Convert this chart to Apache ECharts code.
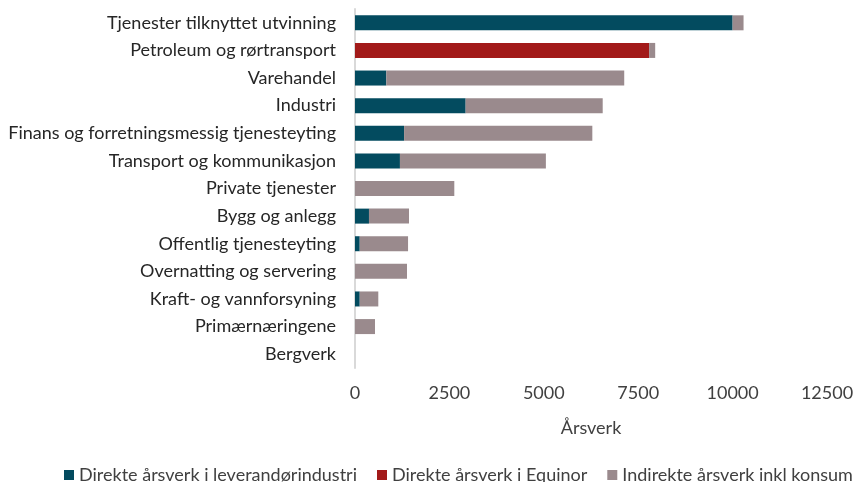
<!DOCTYPE html>
<html>
<head>
<meta charset="utf-8">
<script src="https://cdn.jsdelivr.net/npm/echarts@6/dist/echarts.min.js"></script>
<style>
html,body{margin:0;padding:0;background:#fff;}
#chart{width:859px;height:482px;}
</style>
</head>
<body>
<div id="chart"></div>
<script>
const categories = [
  "Tjenester tilknyttet utvinning",
  "Petroleum og rørtransport",
  "Varehandel",
  "Industri",
  "Finans og forretningsmessig tjenesteyting",
  "Transport og kommunikasjon",
  "Private tjenester",
  "Bygg og anlegg",
  "Offentlig tjenesteyting",
  "Overnatting og servering",
  "Kraft- og vannforsyning",
  "Primærnæringene",
  "Bergverk"
];
const seriesNames = [
  "Direkte årsverk i leverandørindustri",
  "Direkte årsverk i Equinor",
  "Indirekte årsverk inkl konsum"
];
const directSupplier = [10000, 0, 830, 2930, 1300, 1190, 0, 370, 125, 0, 125, 0, 0];
const directEquinor  = [0, 7790, 0, 0, 0, 0, 0, 0, 0, 0, 0, 0, 0];
const indirect       = [290, 160, 6300, 3630, 4985, 3865, 2630, 1060, 1280, 1377, 492, 530, 0];
const xTicks = { min: 0, max: 12500, interval: 2500 };
const xAxisName = "Årsverk";

const FONT = "Lato";
const chart = echarts.init(document.getElementById('chart'), null, {renderer: 'canvas'});
const colors = ['#034B5F', '#A21A19', '#9A8A8D'];
const values = [directSupplier, directEquinor, indirect];

chart.setOption({
  animation: false,
  color: colors,
  grid: { left: 355, right: 32, top: 9, bottom: 114, containLabel: false },
  xAxis: {
    type: 'value',
    min: xTicks.min, max: xTicks.max, interval: xTicks.interval,
    name: xAxisName, nameLocation: 'middle', nameGap: 51,
    nameTextStyle: { fontFamily: FONT, fontSize: 18, color: '#404040' },
    axisLine: { show: false },
    axisTick: { show: false },
    splitLine: { show: false },
    axisLabel: { fontFamily: FONT, fontSize: 18, color: '#404040', margin: 16,
      formatter: v => String(v) }
  },
  yAxis: {
    type: 'category',
    data: categories,
    inverse: true,
    axisLine: { show: true, lineStyle: { color: '#D9D9D9', width: 2 } },
    axisTick: { show: false },
    axisLabel: { fontFamily: FONT, fontSize: 18, color: '#262626', margin: 19 }
  },
  legend: {
    top: 466, left: 64, width: 795, padding: 0,
    itemWidth: 10, itemHeight: 10, itemGap: 20,
    icon: 'rect',
    textStyle: { fontFamily: FONT, fontSize: 18, color: '#404040' },
    data: seriesNames
  },
  series: seriesNames.map((n, i) => ({
    name: n,
    type: 'bar',
    stack: 'total',
    barWidth: 15,
    data: values[i],
    itemStyle: { color: colors[i] }
  }))
});
</script>
</body>
</html>
